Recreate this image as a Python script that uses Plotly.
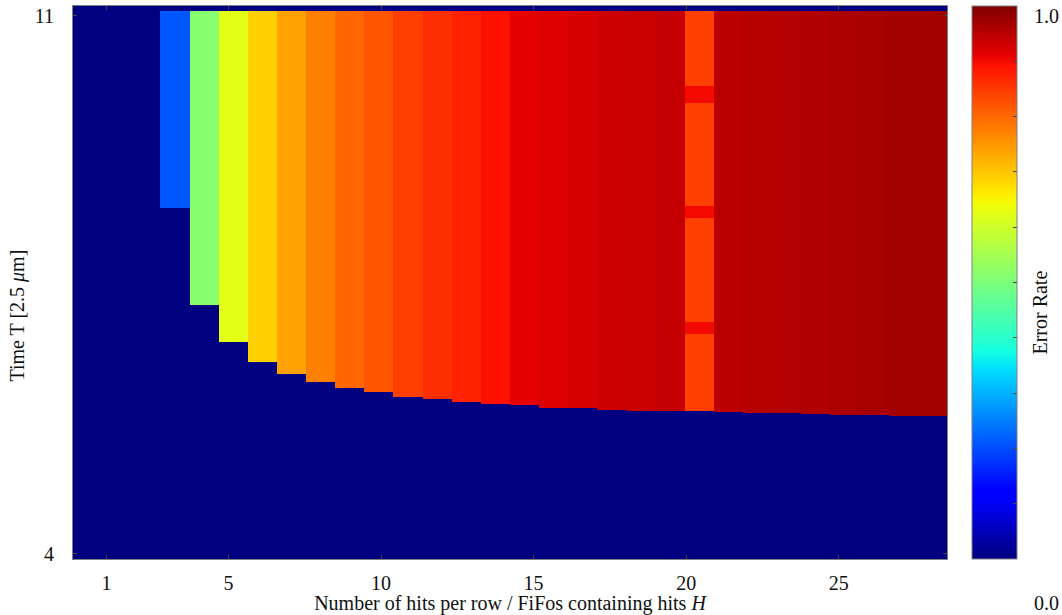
import plotly.graph_objects as go
import numpy as np

# ---------------- data ----------------
x_tick_values = [1, 5, 10, 15, 20, 25]
y_tick_values = [4, 11]

# error rate per column (H columns, left to right)
col_error = [0, 0, 0, 0.21, 0.515, 0.624, 0.69, 0.74, 0.775, 0.80,
             0.82, 0.843, 0.861, 0.875, 0.893, 0.913, 0.919, 0.926, 0.934, 0.937,
             0.94, 0.843, 0.949, 0.952, 0.955, 0.958, 0.963, 0.965, 0.968, 0.97]
# lowest time T at which errors appear in each column (None = never)
col_min_T = [None, None, None, 8.50, 7.24, 6.76, 6.50, 6.34, 6.24, 6.16,
             6.10, 6.04, 6.01, 5.98, 5.95, 5.93, 5.90, 5.89, 5.87, 5.86,
             5.86, 5.86, 5.84, 5.83, 5.83, 5.82, 5.81, 5.80, 5.79, 5.79]
T_max_data = 11.07
T_min_axis = 3.93
T_max_axis = 11.13

# darker red bands inside the anomalous column
band_column = 21
band_lo = [9.87, 8.37, 6.86]
band_hi = [10.09, 8.53, 7.02]
band_err = [0.90, 0.90, 0.90]

# ---------------- build grid ----------------
edges = {T_min_axis, T_max_data, T_max_axis}
for m in col_min_T:
    if m is not None:
        edges.add(m)
for a, b in zip(band_lo, band_hi):
    edges.add(a); edges.add(b)
edges = sorted(edges)

z = []
for i in range(len(edges) - 1):
    mid = 0.5 * (edges[i] + edges[i + 1])
    row = []
    for c, (err, m) in enumerate(zip(col_error, col_min_T)):
        v = 0.0
        if m is not None and m <= mid < T_max_data:
            v = err
            if c == band_column:
                for a, b, e in zip(band_lo, band_hi, band_err):
                    if a <= mid < b:
                        v = e
        row.append(v)
    z.append(row)

# matplotlib-like jet colorscale
seg = {
    'r': [(0, 0), (0.35, 0), (0.66, 1), (0.89, 1), (1, 0.5)],
    'g': [(0, 0), (0.125, 0), (0.375, 1), (0.64, 1), (0.91, 0), (1, 0)],
    'b': [(0, 0.5), (0.11, 1), (0.34, 1), (0.65, 0), (1, 0)],
}
stops = sorted({p for k in seg for p, _ in seg[k]})
def chan(k, t):
    xs = [p for p, _ in seg[k]]; ys = [v for _, v in seg[k]]
    return float(np.interp(t, xs, ys))
jet = [[t, 'rgb(%d,%d,%d)' % tuple(round(255 * chan(k, t)) for k in 'rgb')] for t in stops]

# geometry of the axis (column width in axis units)
x_range = [-0.095, 28.55]
ncol = len(col_error)
dx = (x_range[1] - x_range[0]) / ncol

font_family = "Liberation Serif, Times New Roman, serif"

fig = go.Figure(go.Heatmap(
    z=z, x0=x_range[0] + dx / 2, dx=dx, y=edges,
    colorscale=jet, zmin=0, zmax=1, zsmooth=False,
    colorbar=dict(
        x=1.0286, xanchor='left', xref='paper', y=0.5, yanchor='middle',
        len=1.0, lenmode='fraction', thickness=45, thicknessmode='pixels',
        outlinewidth=1, outlinecolor='#808080', xpad=0, ypad=0,
        showticklabels=False, ticks='inside', ticklen=4, tickcolor='#444',
        tick0=0, dtick=0.1,
    ),
    hoverinfo='skip',
))

fig.update_layout(
    width=1062, height=615,
    margin=dict(l=73, r=115, t=6, b=56, autoexpand=False),
    paper_bgcolor='white', plot_bgcolor='white',
    font=dict(family=font_family, size=20, color='#111'),
    xaxis=dict(
        range=x_range, tickvals=x_tick_values, ticktext=[str(v) for v in x_tick_values],
        ticks='inside', ticklen=4, tickcolor='#444', showgrid=False, zeroline=False,
        showline=True, linecolor='#808080', linewidth=1, mirror='ticks',
        ticklabelstandoff=6, automargin=False,
        title=dict(text='Number of hits per row / FiFos containing hits <i>H</i>',
                   font=dict(size=20), standoff=0),
    ),
    yaxis=dict(
        range=[T_min_axis, T_max_axis], tickvals=y_tick_values, ticktext=[str(v) for v in y_tick_values],
        ticks='inside', ticklen=4, tickcolor='#444', showgrid=False, zeroline=False,
        showline=True, linecolor='#808080', linewidth=1, mirror='ticks',
        ticklabelstandoff=14, automargin=False,
    ),
)

fig.add_annotation(text='Time T [2.5 <i>μ</i>m]', xref='paper', yref='paper', x=-0.063, y=0.44,
                   xanchor='center', yanchor='middle', textangle=-90, showarrow=False,
                   font=dict(size=20))
fig.add_annotation(text='1.0', xref='paper', yref='paper', x=1.097, y=0.982,
                   xanchor='left', yanchor='middle', showarrow=False, font=dict(size=20))
fig.add_annotation(text='0.0', xref='paper', yref='paper', x=1.097, y=-0.079,
                   xanchor='left', yanchor='middle', showarrow=False, font=dict(size=20))
fig.add_annotation(text='Error Rate', xref='paper', yref='paper', x=1.106, y=0.445,
                   xanchor='center', yanchor='middle', textangle=-90, showarrow=False,
                   font=dict(size=20))

fig.write_html("out.html", config={'displayModeBar': False},
               post_script="document.body.style.margin='0';document.body.style.overflow='hidden';")
